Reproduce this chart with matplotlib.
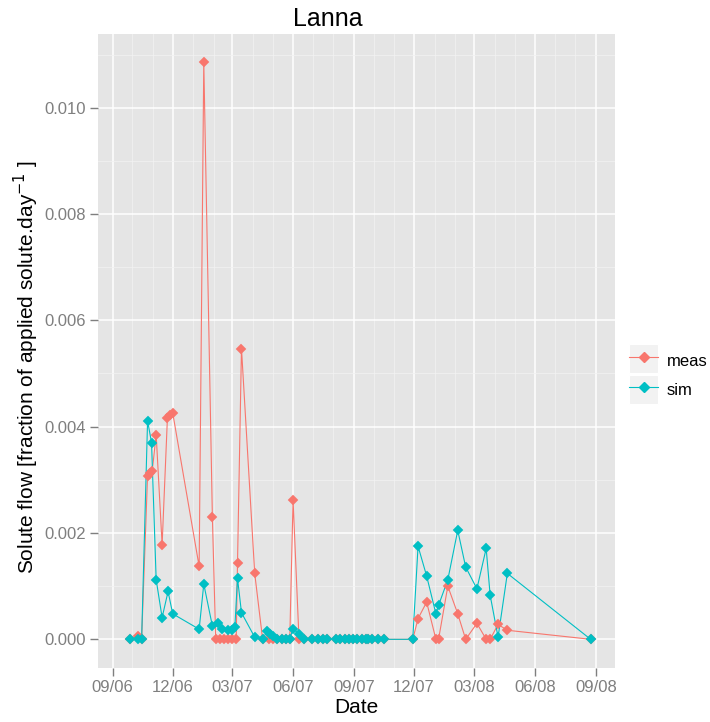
import matplotlib
matplotlib.use('Agg')
import numpy as np
import pandas as pd
import matplotlib.pyplot as plt
import matplotlib.dates as mdates
from matplotlib.lines import Line2D
from matplotlib.patches import Rectangle

plt.rcParams['font.family'] = ['Liberation Sans', 'DejaVu Sans']

# zero-flow dates shared by both series in summer/autumn 2007
dry_dates = ['2007-06-30', '2007-07-09', '2007-07-16', '2007-07-22', '2007-08-05', '2007-08-11',
             '2007-08-18', '2007-08-24', '2007-08-31', '2007-09-06', '2007-09-13', '2007-09-19',
             '2007-09-23', '2007-09-29', '2007-10-08', '2007-10-17']

sim_dates = ['2006-09-28', '2006-10-09', '2006-10-15', '2006-10-24', '2006-10-30', '2006-11-06',
             '2006-11-15', '2006-11-24', '2006-12-01',
             '2007-01-10', '2007-01-17', '2007-01-30', '2007-02-07', '2007-02-14', '2007-02-22',
             '2007-02-28', '2007-03-05', '2007-03-09', '2007-03-15',
             '2007-04-04', '2007-04-16', '2007-04-23', '2007-04-27', '2007-05-01', '2007-05-07',
             '2007-05-15', '2007-05-21', '2007-05-27', '2007-06-01', '2007-06-10', '2007-06-17'] + dry_dates + \
            ['2007-11-29', '2007-12-07', '2007-12-20', '2008-01-03', '2008-01-07', '2008-01-21',
             '2008-02-05', '2008-02-17', '2008-03-05', '2008-03-19', '2008-03-25', '2008-04-06',
             '2008-04-20', '2008-08-24']
sim_flow = [0, 0, 0, 0.00411, 0.0037, 0.00112, 0.00041, 0.0009, 0.00048,
            0.00019, 0.00104, 0.00025, 0.0003, 0.0002, 0.00017, 0.00017, 0.00023, 0.00115, 0.0005,
            0.00004, 0, 0.00016, 0.0001, 0.00006, 0, 0, 0, 0, 0.0002, 0.0001, 0] + [0] * 16 + \
           [0, 0.00175, 0.00119, 0.00048, 0.00064, 0.00112, 0.00205, 0.00136, 0.00095, 0.00171,
            0.00083, 0.00004, 0.00124, 0]

meas_dates = ['2006-09-28', '2006-10-09', '2006-10-15', '2006-10-24', '2006-10-27', '2006-10-31',
              '2006-11-06', '2006-11-15', '2006-11-23', '2006-11-27', '2006-12-01',
              '2007-01-10', '2007-01-17', '2007-01-30', '2007-02-04', '2007-02-10', '2007-02-17',
              '2007-02-23', '2007-03-01', '2007-03-07', '2007-03-09', '2007-03-15',
              '2007-04-04', '2007-04-16', '2007-04-25', '2007-05-01', '2007-05-07', '2007-05-15',
              '2007-05-21', '2007-05-27', '2007-06-01', '2007-06-10', '2007-06-17'] + dry_dates + \
             ['2007-11-29', '2007-12-07', '2007-12-20', '2008-01-03', '2008-01-07', '2008-01-21',
              '2008-02-05', '2008-02-17', '2008-03-05', '2008-03-19', '2008-03-25', '2008-04-06',
              '2008-04-20', '2008-08-24']
meas_flow = [0, 0.00007, 0, 0.00308, 0.00312, 0.00316, 0.00385, 0.00178, 0.00416, 0.00421, 0.00426,
             0.00137, 0.01085, 0.0023, 0, 0, 0, 0, 0, 0, 0.00144, 0.00547,
             0.00124, 0, 0, 0, 0, 0, 0, 0, 0.00262, 0, 0] + [0] * 16 + \
            [0, 0.00039, 0.0007, 0, 0, 0.001, 0.00048, 0, 0.0003, 0, 0, 0.00028, 0.00017, 0]

series = {'meas': (pd.to_datetime(meas_dates), meas_flow, '#F8766D'),
          'sim': (pd.to_datetime(sim_dates), sim_flow, '#00BFC4')}

fig = plt.figure(figsize=(7.1, 7.22), dpi=100)
ax = fig.add_axes([98.3 / 710, 1 - 667.7 / 722, (615 - 98.3) / 710, (667.7 - 34) / 722])
ax.set_facecolor('#E5E5E5')
for s in ax.spines.values():
    s.set_visible(False)

# lines first, then points on top (like ggplot layers)
for name, (d, v, c) in series.items():
    ax.plot(d, v, color=c, lw=0.8, zorder=3)
for name, (d, v, c) in series.items():
    ax.plot(d, v, color=c, ls='none', marker='D', ms=5.5, mec=c, mew=0.3, zorder=4)

start = pd.Timestamp('2006-09-01')
ax.set_xlim(start - pd.Timedelta(days=21.5), start + pd.Timedelta(days=759.8))
ax.set_ylim(-0.000534, 0.011386)

ax.xaxis.set_major_locator(mdates.MonthLocator(bymonth=[3, 6, 9, 12]))
ax.xaxis.set_minor_locator(mdates.MonthLocator())
ax.xaxis.set_major_formatter(mdates.DateFormatter('%m/%y'))
ax.set_yticks(np.arange(0, 0.0101, 0.002))
ax.set_yticks(np.arange(0.001, 0.0111, 0.002), minor=True)
ax.yaxis.set_major_formatter(plt.FormatStrFormatter('%.3f'))

ax.grid(which='major', color='white', lw=1.1)
ax.grid(which='minor', color='#F2F2F2', lw=0.55)
ax.set_axisbelow(True)
ax.tick_params(which='major', length=5.5, width=1.0, color='#7F7F7F', labelcolor='#7F7F7F',
               labelsize=12, pad=3.5)
ax.tick_params(which='minor', length=0)

ax.set_title('Lanna', fontsize=18, pad=5.5, x=0.4446)
ax.set_xlabel('Date', fontsize=15, labelpad=2)
ax.set_ylabel('Solute flow [fraction of applied solute.day$^{-1}$ ]', fontsize=15)
ax.yaxis.set_label_coords(-0.11, 0.4745)

# legend keys with grey background
for y0 in [344, 375]:
    fig.add_artist(Rectangle((629.3 / 710, 1 - (y0 + 29) / 722), 29 / 710, 29 / 722,
                             transform=fig.transFigure, facecolor='#F2F2F2', edgecolor='white', lw=0.8))
handles = [Line2D([], [], color=c, lw=0.8, marker='D', ms=5.5) for d, v, c in series.values()]
leg = fig.legend(handles, list(series.keys()), loc='upper left',
                 bbox_to_anchor=(629.3 / 710, 1 - 348.7 / 722), frameon=False, fontsize=12,
                 borderpad=0, borderaxespad=0, handlelength=1.74, handleheight=1.74,
                 labelspacing=0.41, handletextpad=0.5, numpoints=1)

fig.savefig('out.png', dpi=100)
